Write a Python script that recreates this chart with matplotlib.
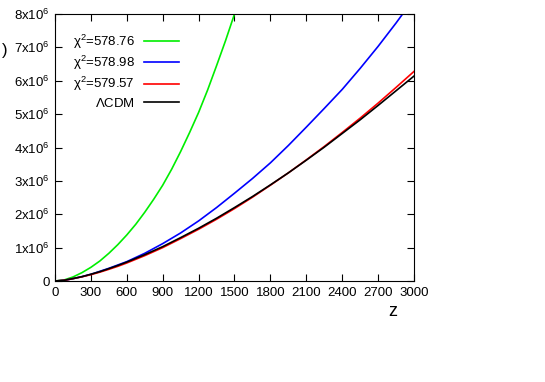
import numpy as np
import matplotlib
matplotlib.use('Agg')
import matplotlib.pyplot as plt
from matplotlib.ticker import FuncFormatter

plt.rcParams['font.family'] = ['Liberation Sans', 'DejaVu Sans']
plt.rcParams['mathtext.default'] = 'regular'

# (z, wartosci w 1e6)
z_green = [0, 75, 150, 225, 300, 375, 450, 525, 600, 675, 750, 825, 900, 975, 1050,
           1125, 1200, 1275, 1350, 1425, 1500, 1550]
v_green = [0, 0.03, 0.12, 0.25, 0.41, 0.60, 0.83, 1.09, 1.38, 1.70, 2.06, 2.45, 2.87, 3.35, 3.88,
           4.45, 5.05, 5.72, 6.45, 7.20, 8.0, 8.55]

z_blue = [0, 75, 150, 225, 300, 375, 450, 525, 600, 750, 900, 1050, 1200, 1350, 1500,
          1650, 1800, 1950, 2100, 2250, 2400, 2550, 2700, 2850, 2905, 2950]
v_blue = [0, 0.02, 0.07, 0.13, 0.20, 0.29, 0.38, 0.48, 0.58, 0.83, 1.12, 1.44, 1.80, 2.20, 2.63,
          3.07, 3.54, 4.06, 4.61, 5.17, 5.74, 6.37, 7.03, 7.73, 8.0, 8.25]

z_red = [0, 75, 150, 225, 300, 375, 450, 525, 600, 750, 900, 1050, 1200, 1350, 1500,
         1650, 1800, 1950, 2100, 2250, 2400, 2550, 2700, 2850, 3000]
v_red = [0, 0.02, 0.07, 0.125, 0.19, 0.265, 0.35, 0.44, 0.54, 0.76, 1.0, 1.27, 1.55, 1.85, 2.17,
         2.51, 2.87, 3.24, 3.63, 4.03, 4.45, 4.88, 5.33, 5.80, 6.28]

z_lcdm = [0, 75, 150, 225, 300, 375, 450, 525, 600, 750, 900, 1050, 1200, 1350, 1500,
          1650, 1800, 1950, 2100, 2250, 2400, 2550, 2700, 2850, 3000]
v_lcdm = [0, 0.02, 0.073, 0.13, 0.203, 0.28, 0.37, 0.465, 0.567, 0.789, 1.03, 1.30, 1.58, 1.88, 2.20,
          2.53, 2.88, 3.24, 3.62, 4.01, 4.42, 4.83, 5.26, 5.70, 6.14]

labels = [r'$\chi^2$=578.76', r'$\chi^2$=578.98', r'$\chi^2$=579.57', r'$\Lambda$CDM']
colors = ['#00ee00', '#0000ff', '#ff0000', '#000000']

x_ticks = [0, 300, 600, 900, 1200, 1500, 1800, 2100, 2400, 2700, 3000]
y_ticks = [0, 1, 2, 3, 4, 5, 6, 7, 8]

fig = plt.figure(figsize=(5.45, 3.82), dpi=100)
ax = fig.add_axes([55 / 545, 1 - 281 / 382, 359 / 545, 267 / 382])

series = [(z_green, v_green), (z_blue, v_blue), (z_red, v_red), (z_lcdm, v_lcdm)]
for (zz, vv), lab, c in zip(series, labels, colors):
    ax.plot(zz, np.array(vv) * 1e6, color=c, lw=1.2, label=lab)

ax.set_xlim(0, 3000)
ax.set_ylim(0, 8e6)
ax.set_xticks(x_ticks)
ax.set_yticks([v * 1e6 for v in y_ticks])
ax.yaxis.set_major_formatter(FuncFormatter(
    lambda v, p: '0' if v == 0 else '%dx10$^{6}$' % round(v / 1e6)))
ax.tick_params(direction='in', top=True, right=True, length=5, labelsize=9.5, pad=4)

ax.legend(loc='upper left', bbox_to_anchor=(0.017, 0.975), frameon=False, markerfirst=False,
          fontsize=9.5, handlelength=2.6, handletextpad=0.7, labelspacing=0.24)

fig.text(393 / 545, 1 - 311 / 382, 'z', ha='center', va='center', fontsize=13)
fig.text(2 / 545, 1 - 50 / 382, ')', ha='left', va='center', fontsize=12)

fig.savefig('out.png', dpi=100)
